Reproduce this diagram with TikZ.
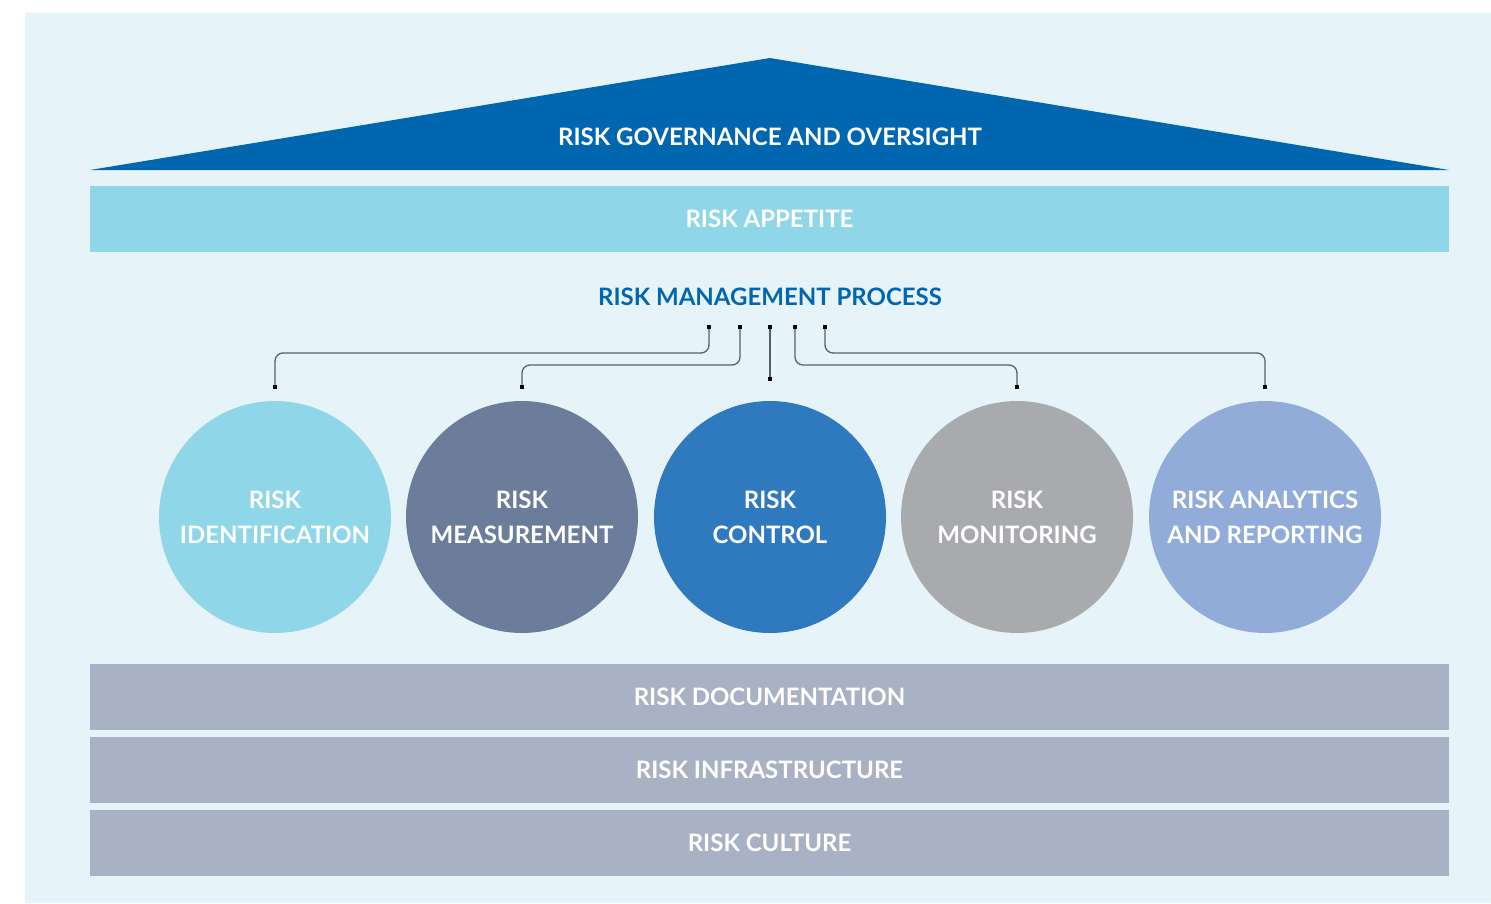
\documentclass[tikz,border=0pt]{standalone}
\usepackage{fontspec}
\setmainfont{Lato}
\usetikzlibrary{arrows.meta,positioning}

\definecolor{bgblue}{HTML}{E6F4FA}
\definecolor{roofblue}{HTML}{0066B0}
\definecolor{skyblue}{HTML}{8FD6E8}
\definecolor{slateblue}{HTML}{6B7D9A}
\definecolor{midblue}{HTML}{2F7ABF}
\definecolor{stonegrey}{HTML}{A9AAAE}
\definecolor{paleblue}{HTML}{91ACD9}
\definecolor{bargrey}{HTML}{A9B1C4}
\definecolor{linkgrey}{HTML}{5A6066}

\tikzset{
  label text/.style={text=white,font=\fontsize{24}{35}\selectfont\bfseries},
  band/.style={label text,minimum width=1359pt,minimum height=66pt,inner sep=0pt},
  stage/.style={label text,circle,minimum size=232pt,inner sep=0pt,align=center},
  link/.style={draw=linkgrey,line width=1.3pt,rounded corners=8pt,
    {Square[length=4pt,width=4pt,color=black]}-{Square[length=4pt,width=4pt,color=black]}}
}

\begin{document}
\begin{tikzpicture}[x=1pt,y=-1pt]
\useasboundingbox (0,0) rectangle (1491,903);
\fill[bgblue] (25,13) rectangle (1491,903);

% roof
\fill[roofblue] (90,170) -- (770,58) -- (1449,170) -- cycle;
\node[label text] (roof) at (770,137) {RISK GOVERNANCE AND OVERSIGHT};

% appetite band
\node[band,fill=skyblue] (appetite) at (769.5,219) {RISK APPETITE};

% process title
\node[font=\fontsize{24}{28}\selectfont\bfseries,text=roofblue] (process) at (770,297) {RISK MANAGEMENT PROCESS};

% process stages
\node[stage,fill=skyblue] (ident) at (275,517) {RISK\\IDENTIFICATION};
\node[stage,fill=slateblue] (measure) at (522,517) {RISK\\MEASUREMENT};
\node[stage,fill=midblue] (control) at (770,517) {RISK\\CONTROL};
\node[stage,fill=stonegrey] (monitor) at (1017,517) {RISK\\MONITORING};
\node[stage,fill=paleblue] (analytics) at (1265,517) {RISK ANALYTICS\\AND REPORTING};

% connectors
\coordinate (p1) at (709,325);
\coordinate (p2) at (740,325);
\coordinate (p3) at (770,325);
\coordinate (p4) at (795,325);
\coordinate (p5) at (825,325);
\draw[link] (p1) -- ++(0,28) -| ([yshift=12pt]ident.north);
\draw[link] (p2) -- ++(0,40) -| ([yshift=12pt]measure.north);
\draw[link] (p3) -- ([yshift=20pt]control.north);
\draw[link] (p4) -- ++(0,40) -| ([yshift=12pt]monitor.north);
\draw[link] (p5) -- ++(0,28) -| ([yshift=12pt]analytics.north);

% foundation bands
\node[band,fill=bargrey] (docs) at (769.5,697) {RISK DOCUMENTATION};
\node[band,fill=bargrey] (infra) at (769.5,770) {RISK INFRASTRUCTURE};
\node[band,fill=bargrey] (culture) at (769.5,843) {RISK CULTURE};
\end{tikzpicture}
\end{document}
